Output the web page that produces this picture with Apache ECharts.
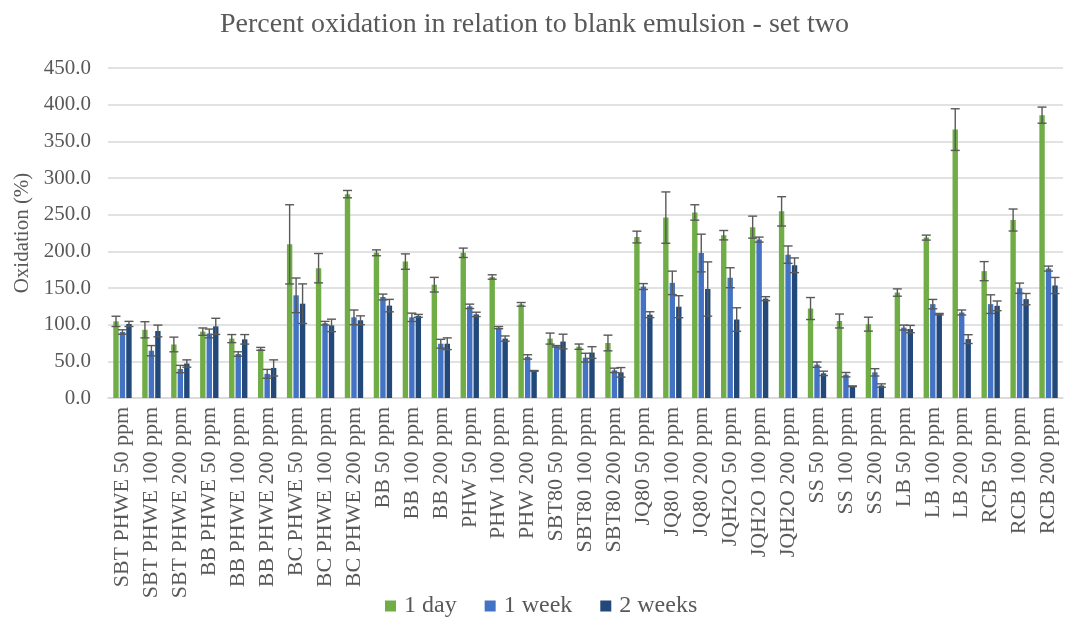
<!DOCTYPE html>
<html>
<head>
<meta charset="utf-8">
<script src="https://cdn.jsdelivr.net/npm/echarts@6/dist/echarts.min.js"></script>
<style>html,body{margin:0;padding:0;background:#fff}#c{width:1069px;height:620px}</style>
</head>
<body>
<div id="c"></div>
<script>
const categories = ['SBT PHWE 50 ppm','SBT PHWE 100 ppm','SBT PHWE 200 ppm','BB PHWE 50 ppm','BB PHWE 100 ppm','BB PHWE 200 ppm','BC PHWE 50 ppm','BC PHWE 100 ppm','BC PHWE 200 ppm','BB 50 ppm','BB 100 ppm','BB 200 ppm','PHW 50 ppm','PHW 100 ppm','PHW 200 ppm','SBT80 50 ppm','SBT80 100 ppm','SBT80 200 ppm','JQ80 50 ppm','JQ80 100 ppm','JQ80 200 ppm','JQH2O 50 ppm','JQH2O 100 ppm','JQH2O 200 ppm','SS 50 ppm','SS 100 ppm','SS 200 ppm','LB 50 ppm','LB 100 ppm','LB 200 ppm','RCB 50 ppm','RCB 100 ppm','RCB 200 ppm'];
const day1 = [104.5, 93, 73, 90.5, 81, 67, 209.5, 177, 278, 198, 186, 154.5, 198, 165, 127.7, 81, 70, 75, 219.5, 246, 253, 222, 233, 254.5, 122, 105, 100.7, 143.8, 218.7, 366, 173, 242.7, 385.7];
const day1Err = [7, 11, 10, 5, 5.5, 2, 54, 20, 5, 4, 10.5, 10, 6.4, 3, 2.5, 7.5, 3.6, 10.7, 8, 35, 10.5, 6.4, 15, 20, 15, 9.5, 9.5, 5, 3.4, 28.4, 13, 15, 11];
const week1 = [90, 64.5, 39.5, 88, 60, 33, 140, 102, 110, 137.7, 110, 74, 125, 96, 56, 70.5, 55, 37.7, 152, 157, 197.7, 164, 216, 195.5, 45.5, 31.8, 35, 96, 128, 116.6, 128, 149.7, 176.5];
const week1Err = [3, 7, 5, 6, 3, 6, 23.6, 2.5, 10, 4, 5.7, 6, 3, 1.5, 3, 1, 6, 3, 4, 16, 25.7, 13.6, 3.4, 11.8, 3.6, 3, 5, 3.4, 6.4, 3.4, 12.7, 7, 3.4];
const week2 = [101, 91.4, 47, 97.7, 80, 41, 128.6, 99, 106, 126, 112, 74, 114, 81, 37, 77, 62, 35, 113.6, 124.5, 148.6, 107, 135.5, 181, 33.6, 16, 17, 94, 114.3, 80.3, 125.7, 134.8, 153.4];
const week2Err = [3.5, 8, 5, 11, 6.5, 11, 27, 8.5, 6, 8.5, 2, 8, 3, 3.6, 0.5, 10, 8, 6.5, 4, 15, 37, 16, 2.7, 10, 3, 0.5, 2.3, 5, 1, 6, 6.6, 7.7, 11];
const seriesNames = ['1 day', '1 week', '2 weeks'];
const colors = ['#70AD47', '#4472C4', '#22497A'];

const BAR_W = 5.4, BAR_GAP = 0.2, CAP = 9;
const FONT = '"Liberation Serif", "Times New Roman", serif';
const TXT = '#595959';

function errSeries(vals, errs, k) {
  return {
    type: 'custom',
    name: seriesNames[k] + ' err',
    data: vals.map((v, i) => [i, v, errs[i]]),
    z: 5,
    silent: true,
    renderItem: function (params, api) {
      const idx = api.value(0), v = api.value(1), e = api.value(2);
      const off = (k - 1) * BAR_W * (1 + BAR_GAP);
      const top = api.coord([idx, v + e]);
      const bot = api.coord([idx, v - e]);
      const x = top[0] + off;
      const st = { stroke: '#595959', lineWidth: 1.4 };
      return {
        type: 'group',
        children: [
          { type: 'line', shape: { x1: x, y1: top[1], x2: x, y2: bot[1] }, style: st },
          { type: 'line', shape: { x1: x - CAP / 2, y1: top[1], x2: x + CAP / 2, y2: top[1] }, style: st },
          { type: 'line', shape: { x1: x - CAP / 2, y1: bot[1], x2: x + CAP / 2, y2: bot[1] }, style: st }
        ]
      };
    }
  };
}

const chart = echarts.init(document.getElementById('c'), null, { renderer: 'canvas' });
chart.setOption({
  animation: false,
  color: colors,
  title: {
    text: 'Percent oxidation in relation to blank emulsion - set two',
    left: 'center', top: 6,
    textStyle: { fontFamily: FONT, fontSize: 28, fontWeight: 'normal', color: TXT }
  },
  legend: {
    data: seriesNames,
    bottom: -3, left: 380,
    icon: 'rect', itemWidth: 11, itemHeight: 11, itemGap: 28,
    textStyle: { fontFamily: FONT, fontSize: 24, color: TXT, padding: [0, 0, 0, 3] }
  },
  grid: { left: 108, right: 6, top: 68, bottom: 222, containLabel: false },
  xAxis: {
    type: 'category', data: categories,
    axisLine: { lineStyle: { color: '#D9D9D9', width: 1.5 } },
    axisTick: { show: false },
    axisLabel: { interval: 0, rotate: 90, margin: 9, fontFamily: FONT, fontSize: 22, color: TXT }
  },
  yAxis: {
    type: 'value', min: 0, max: 450, interval: 50,
    name: 'Oxidation (%)', nameLocation: 'middle', nameGap: 74, nameRotate: 90,
    nameTextStyle: { fontFamily: FONT, fontSize: 21, color: TXT },
    axisLine: { show: false }, axisTick: { show: false },
    axisLabel: { margin: 17, fontFamily: FONT, fontSize: 21, color: TXT, formatter: v => v.toFixed(1) },
    splitLine: { lineStyle: { color: '#D9D9D9', width: 1.5 } }
  },
  series: [
    { type: 'bar', name: seriesNames[0], data: day1, barWidth: BAR_W, barGap: '20%', itemStyle: { color: colors[0] } },
    { type: 'bar', name: seriesNames[1], data: week1, barWidth: BAR_W, barGap: '20%', itemStyle: { color: colors[1] } },
    { type: 'bar', name: seriesNames[2], data: week2, barWidth: BAR_W, barGap: '20%', itemStyle: { color: colors[2] } },
    errSeries(day1, day1Err, 0),
    errSeries(week1, week1Err, 1),
    errSeries(week2, week2Err, 2)
  ]
});
</script>
</body>
</html>
